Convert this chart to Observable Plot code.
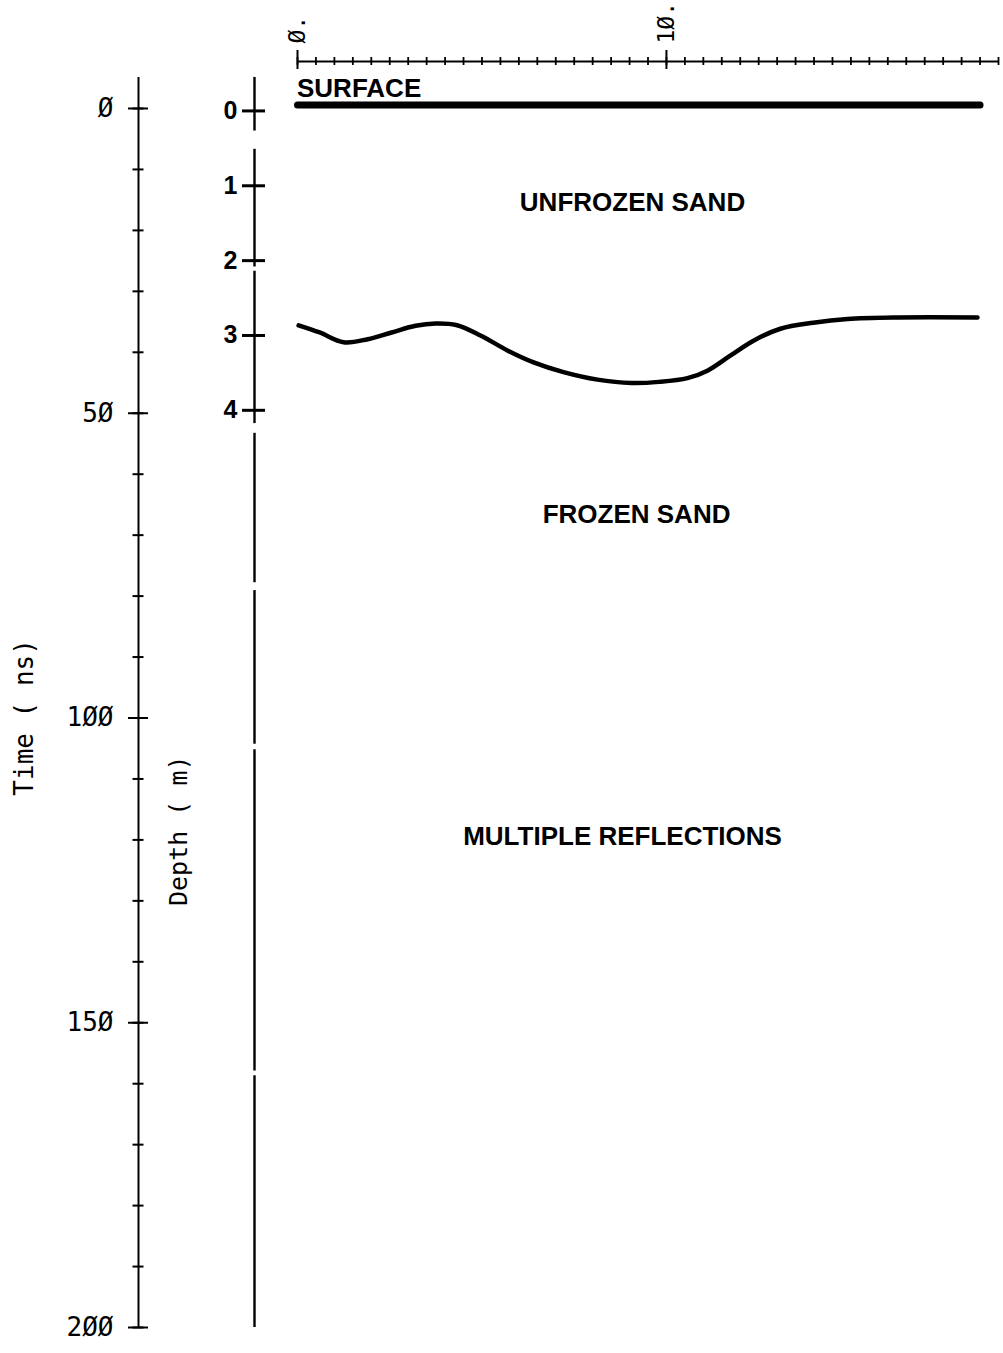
<!DOCTYPE html>
<html>
<head>
<meta charset="utf-8">
<script src="https://cdn.jsdelivr.net/npm/d3@7"></script>
<script src="https://cdn.jsdelivr.net/npm/@observablehq/plot@0.6"></script>
<style>
  html, body { margin: 0; padding: 0; background: #fff; }
  svg { display: block; }
</style>
</head>
<body>
<div id="chart"></div>
<script>
// ---------------- data ----------------
// horizontal distance axis (top)
const distanceTicks = [0,0.5,1,1.5,2,2.5,3,3.5,4,4.5,5,5.5,6,6.5,7,7.5,8,8.5,9,9.5,10,
  10.5,11,11.5,12,12.5,13,13.5,14,14.5,15,15.5,16,16.5,17,17.5,18,18.5,19];
const distanceLabels = [0, 10];

// time axis (ns)
const timeTicks = [0,10,20,30,40,50,60,70,80,90,100,110,120,130,140,150,160,170,180,190,200];
const timeLabels = [0, 50, 100, 150, 200];

// depth axis (m)
const depthTicks = [0, 1, 2, 3, 4];
// visible pieces of the broken depth-axis line, in ns
const depthLineStart = [-5.1, 6.7, 26.7, 53.3, 79.1, 105.2, 158.7];
const depthLineEnd   = [3.7, 26.0, 51.7, 77.8, 104.3, 157.9, 200];

// surface line
const surfaceDistance = [0, 18.5];
const surfaceDepth = [-0.08, -0.08];

// frozen / unfrozen interface
const interfaceDistance = [0.03,0.6,1.25,1.90,2.55,3.2,3.75,4.3,4.96,5.69,6.40,7.21,8.13,
  9.05,9.80,10.57,11.11,11.73,12.36,13.09,13.98,14.91,16.26,18.43];
const interfaceDepth = [2.865,2.96,3.09,3.05,2.96,2.87,2.84,2.86,3.00,3.20,3.36,3.49,3.59,
  3.635,3.62,3.57,3.47,3.27,3.07,2.91,2.83,2.78,2.76,2.76];

// layer annotations
const layerNames = ["SURFACE", "UNFROZEN SAND", "FROZEN SAND", "MULTIPLE REFLECTIONS"];
const layerDistance = [1.67, 9.08, 9.19, 8.81];
const layerDepth = [-0.30, 1.23, 5.39, 9.70];

// ---------------- helpers ----------------
const toNs = d => 0.4 + 12.28 * d;              // depth (m) -> two-way time (ns)
const plotterNum = v => String(v).replace(/0/g, "\u00D8");

const surface = surfaceDistance.map((x, i) => ({x, depth: surfaceDepth[i]}));
const iface = interfaceDistance.map((x, i) => ({x, depth: interfaceDepth[i]}));
const layers = layerNames.map((name, i) => ({name, x: layerDistance[i], depth: layerDepth[i]}));
const depthLine = depthLineStart.map((s, i) => ({s, e: depthLineEnd[i]}));

const timeTop = -7.71;
const MONO = "DejaVu Sans Mono";
const SANS = "Liberation Sans, Arial, sans-serif";

const chart = Plot.plot({
  width: 1003,
  height: 1353,
  marginTop: 61,
  marginBottom: 26,
  marginLeft: 297,
  marginRight: 5,
  x: {domain: [0, 19], axis: null},
  y: {domain: [timeTop, 200], reverse: true, axis: null},
  style: {background: "#fff", color: "#000"},
  marks: [
    // top distance axis
    Plot.ruleY([timeTop], {x1: 0, x2: 19, stroke: "#000", strokeWidth: 2}),
    Plot.ruleX(distanceTicks, {x: d => d, y1: timeTop, y2: timeTop, insetTop: -4, insetBottom: -4, stroke: "#000", strokeWidth: 1.8}),
    Plot.ruleX(distanceLabels, {x: d => d, y1: timeTop, y2: timeTop, insetTop: -11, insetBottom: -8, stroke: "#000", strokeWidth: 2}),
    Plot.text(distanceLabels, {x: d => d, frameAnchor: "top", text: d => plotterNum(d) + ".",
      rotate: -90, textAnchor: "start", lineAnchor: "middle", dy: -18,
      fontFamily: MONO, fontSize: 23, letterSpacing: -2, fill: "#000"}),

    // time axis
    Plot.ruleX([0], {x: d => d, y1: -5.1, y2: 200, dx: -159, stroke: "#000", strokeWidth: 2}),
    Plot.ruleY(timeTicks, {y: d => d, x1: 0, x2: 0, dx: -159, insetLeft: -5.5, insetRight: -5.5, stroke: "#000", strokeWidth: 2}),
    Plot.ruleY(timeLabels, {y: d => d, x1: 0, x2: 0, dx: -159, insetLeft: -10, insetRight: -10, stroke: "#000", strokeWidth: 2}),
    Plot.text(timeLabels, {y: d => d, frameAnchor: "left", text: d => plotterNum(d), dx: -184,
      textAnchor: "end", lineAnchor: "middle", fontFamily: MONO, fontSize: 26, letterSpacing: 3, fill: "#000"}),
    Plot.text(["Time ( ns)"], {y: 99.9, frameAnchor: "left", text: d => d, dx: -273, rotate: -90,
      textAnchor: "middle", lineAnchor: "middle", fontFamily: MONO, fontSize: 26, fill: "#000"}),

    // depth axis
    Plot.ruleX(depthLine, {x: 0, y1: d => d.s, y2: d => d.e, dx: -43, stroke: "#000", strokeWidth: 2.4}),
    Plot.ruleY(depthTicks, {y: d => toNs(d), x1: 0, x2: 0, dx: -43, insetLeft: -12, insetRight: -11, stroke: "#000", strokeWidth: 3}),
    Plot.text(depthTicks, {y: d => toNs(d), frameAnchor: "left", text: d => String(d), dx: -60,
      textAnchor: "end", lineAnchor: "middle", fontFamily: SANS, fontWeight: "bold", fontSize: 25, fill: "#000"}),
    Plot.text(["Depth ( m)"], {y: 118.5, frameAnchor: "left", text: d => d, dx: -119, rotate: -90,
      textAnchor: "middle", lineAnchor: "middle", fontFamily: MONO, fontSize: 25, fill: "#000"}),

    // surface and interface
    Plot.line(surface, {x: "x", y: d => toNs(d.depth), stroke: "#000", strokeWidth: 7}),
    Plot.line(iface, {x: "x", y: d => toNs(d.depth), curve: "catmull-rom", stroke: "#000", strokeWidth: 4.5, strokeLinecap: "round"}),

    // annotations
    Plot.text(layers, {x: "x", y: d => toNs(d.depth), text: "name", textAnchor: "middle", lineAnchor: "middle",
      fontFamily: SANS, fontWeight: "bold", fontSize: 26, fill: "#000"})
  ]
});

document.getElementById("chart").appendChild(chart);
</script>
</body>
</html>
